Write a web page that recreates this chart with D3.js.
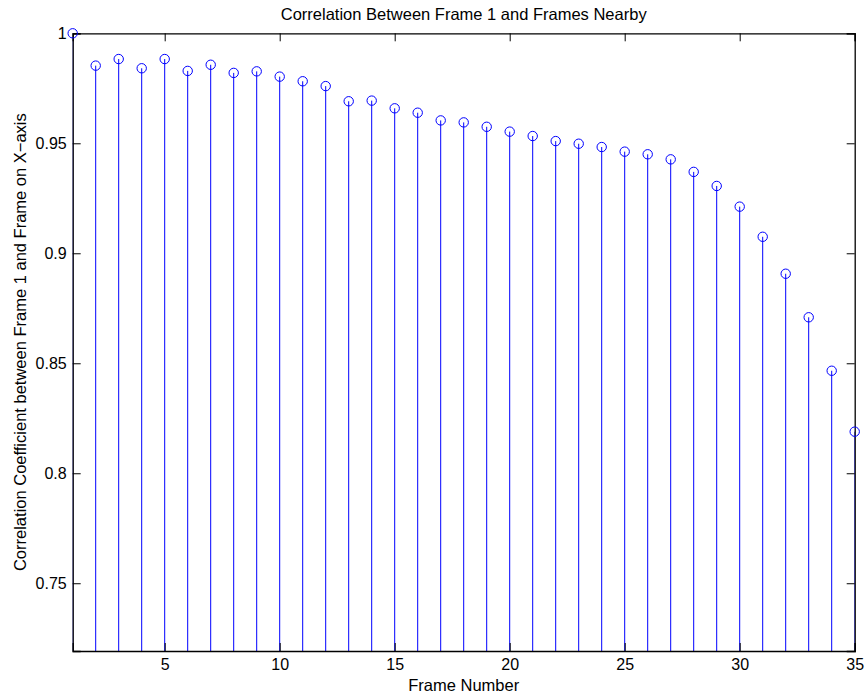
<!DOCTYPE html>
<html>
<head>
<meta charset="utf-8">
<script src="https://cdn.jsdelivr.net/npm/d3@7"></script>
<style>
  html, body { margin: 0; padding: 0; background: #fff; }
  svg { display: block; font-family: "Liberation Sans", Arial, Helvetica, sans-serif; }
</style>
</head>
<body>
<svg class="chart" width="867" height="698"></svg>
<script>
// frame index and correlation with frame 1
const frames = d3.range(1, 36);
const correlation = [
  1.0, 0.9853, 0.9883, 0.9841, 0.9883, 0.9829, 0.9857, 0.982, 0.9827, 0.9803,
  0.9782, 0.976, 0.9691, 0.9694, 0.9659, 0.9639, 0.9604, 0.9595, 0.9575, 0.9553,
  0.9533, 0.951, 0.9498, 0.9483, 0.9462, 0.945, 0.9427, 0.937, 0.9306, 0.9212,
  0.9075, 0.8907, 0.8709, 0.8466, 0.8189
];
const xTicks = [5, 10, 15, 20, 25, 30, 35];
const yTicks = [0.75, 0.8, 0.85, 0.9, 0.95, 1];

const titleText = "Correlation Between Frame 1 and Frames Nearby";
const xLabel = "Frame Number";
const yLabel = "Correlation Coefficient between Frame 1 and Frame on X\u2212axis";

const svg = d3.select(".chart");
const plotLeft = 72.7, plotRight = 854.7, plotTop = 33.3, plotBottom = 651;

const x = d3.scaleLinear().domain([1, 35]).range([plotLeft, plotRight]);
const y = d3.scaleLinear().domain([0.7192, 1]).range([plotBottom, plotTop]);

const data = frames.map((f, i) => ({ f, v: correlation[i] }));

svg.append("clipPath")
  .attr("id", "plot-clip")
  .append("rect")
  .attr("x", plotLeft)
  .attr("y", plotTop)
  .attr("width", plotRight - plotLeft)
  .attr("height", plotBottom - plotTop);

// stems from baseline 0, clipped to the axes box
svg.append("g")
  .attr("clip-path", "url(#plot-clip)")
  .selectAll("line")
  .data(data)
  .enter()
  .append("line")
  .attr("x1", (d) => x(d.f))
  .attr("x2", (d) => x(d.f))
  .attr("y1", y(0))
  .attr("y2", (d) => y(d.v))
  .attr("stroke", "#0000ff")
  .attr("stroke-width", 1);

// axes (ticks point inward)
const tickFont = 16;
const labelFont = 16.5;

const gx = svg.append("g")
  .attr("transform", `translate(0,${plotBottom})`)
  .call(d3.axisBottom(x).tickValues(xTicks).tickSize(-8).tickPadding(8).tickFormat(d3.format("d")));
const gxTop = svg.append("g")
  .attr("transform", `translate(0,${plotTop})`)
  .call(d3.axisTop(x).tickValues(xTicks).tickSize(-8).tickFormat(""));
const gy = svg.append("g")
  .attr("transform", `translate(${plotLeft},0)`)
  .call(d3.axisLeft(y).tickValues(yTicks).tickSize(-8).tickPadding(6).tickFormat((d) => String(+d.toFixed(2))));
const gyRight = svg.append("g")
  .attr("transform", `translate(${plotRight},0)`)
  .call(d3.axisRight(y).tickValues(yTicks).tickSize(-8).tickFormat(""));

[gx, gxTop, gy, gyRight].forEach((g) => {
  g.select(".domain").attr("stroke", "#000").attr("stroke-width", 1.3);
  g.selectAll(".tick line").attr("stroke", "#000").attr("stroke-width", 1);
  g.selectAll(".tick text")
    .attr("fill", "#000")
    .style("font-size", tickFont + "px")
    .style("font-family", "'Liberation Sans', Arial, Helvetica, sans-serif");
});

// markers (not clipped)
svg.append("g")
  .selectAll("circle")
  .data(data)
  .enter()
  .append("circle")
  .attr("cx", (d) => x(d.f))
  .attr("cy", (d) => y(d.v))
  .attr("r", 4.7)
  .attr("fill", "none")
  .attr("stroke", "#0000ff")
  .attr("stroke-width", 1);

svg.append("text")
  .attr("x", (plotLeft + plotRight) / 2)
  .attr("y", 20)
  .attr("text-anchor", "middle")
  .style("font-size", labelFont + "px")
  .text(titleText);

svg.append("text")
  .attr("x", (plotLeft + plotRight) / 2)
  .attr("y", 691)
  .attr("text-anchor", "middle")
  .style("font-size", labelFont + "px")
  .text(xLabel);

svg.append("text")
  .attr("transform", `translate(26,${(plotTop + plotBottom) / 2}) rotate(-90)`)
  .attr("text-anchor", "middle")
  .style("font-size", labelFont + "px")
  .text(yLabel);
</script>
</body>
</html>
